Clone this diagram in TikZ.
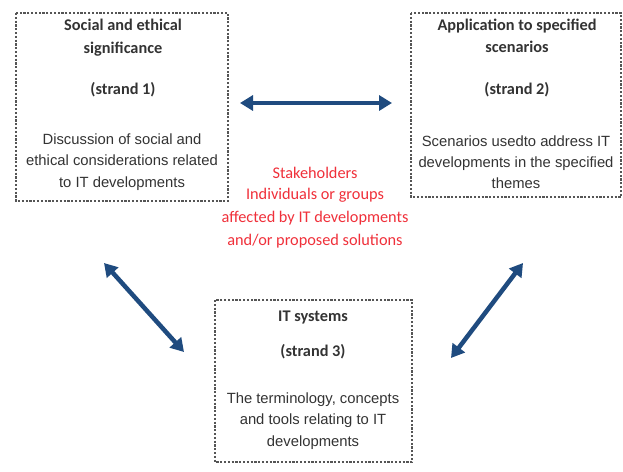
\documentclass[tikz,border=0pt]{standalone}
\usepackage{fontspec}
\setmainfont{Carlito}
\newfontfamily\bodyfont{Liberation Sans}
\usetikzlibrary{arrows.meta}
\definecolor{boxline}{HTML}{555555}
\definecolor{bodytext}{HTML}{333333}
\definecolor{arrowblue}{HTML}{1F4B7F}
\definecolor{stakered}{HTML}{F0303A}
\tikzset{
  strandbox/.style={draw=boxline, line width=1.3pt, dash pattern=on 2.2pt off 1.6pt},
  heading/.style={font=\fontsize{16.3}{18}\selectfont\bfseries, text=bodytext, anchor=base, inner sep=0pt},
  bodyline/.style={font=\bodyfont\fontsize{14.8}{16}\selectfont, text=bodytext, anchor=base, inner sep=0pt},
  redline/.style={font=\fontsize{16.3}{18}\selectfont, text=stakered, anchor=base, inner sep=0pt},
  linkarrow/.style={draw=arrowblue, line width=4.5pt,
    {Triangle[width=15pt,length=13pt]}-{Triangle[width=15pt,length=13pt]}}
}
\begin{document}
\begin{tikzpicture}[x=1pt,y=-1pt]
\useasboundingbox (0,0) rectangle (623,471);
\fill[white] (0,0) rectangle (623,471);

% strand 1
\draw[strandbox] (16,13) rectangle (228,201);
\node[heading] (s1a) at (123,30) {Social and ethical};
\node[heading] (s1b) at (123,53) {significance};
\node[heading] (s1c) at (123,94) {(strand 1)};
\node[bodyline] (s1d) at (122,144) {Discussion of social and};
\node[bodyline] (s1e) at (122,165) {ethical considerations related};
\node[bodyline] (s1f) at (122,187) {to IT developments};

% strand 2
\draw[strandbox] (411,13) rectangle (621,197);
\node[heading] (s2a) at (517,30) {Application to specified};
\node[heading] (s2b) at (517,52) {scenarios};
\node[heading] (s2c) at (517,94) {(strand 2)};
\node[bodyline] (s2d) at (516,146) {Scenarios usedto address IT};
\node[bodyline] (s2e) at (516,167) {developments in the specified};
\node[bodyline] (s2f) at (516,188) {themes};

% strand 3
\draw[strandbox] (215,300) rectangle (412,462);
\node[heading] (s3a) at (313,321) {IT systems};
\node[heading] (s3b) at (313,356) {(strand 3)};
\node[bodyline] (s3c) at (313,403) {The terminology, concepts};
\node[bodyline] (s3d) at (313,424) {and tools relating to IT};
\node[bodyline] (s3e) at (313,446) {developments};

% stakeholders
\node[redline] (st1) at (315,178) {Stakeholders};
\node[redline] (st2) at (315,199) {Individuals or groups};
\node[redline] (st3) at (315,222) {affected by IT developments};
\node[redline] (st4) at (315,245) {and/or proposed solutions};

% arrow end points
\coordinate (h1) at (240,103);
\coordinate (h2) at (392,103);
\coordinate (l1) at (104,263);
\coordinate (l2) at (184,352);
\coordinate (r1) at (523,263);
\coordinate (r2) at (451,358);

\draw[linkarrow] (h1) -- (h2);
\draw[linkarrow] (l1) -- (l2);
\draw[linkarrow] (r1) -- (r2);
\end{tikzpicture}
\end{document}
